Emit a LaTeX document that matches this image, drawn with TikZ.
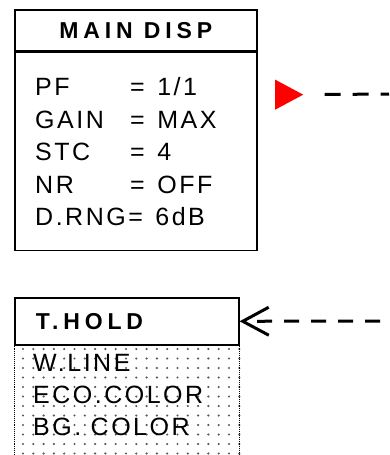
\documentclass[tikz,border=0pt]{standalone}
\usepackage{fontspec}
\setmainfont{Liberation Sans}
\newfontfamily\itemfont[LetterSpace=10]{Liberation Sans}
\newfontfamily\headfont[LetterSpace=21]{Liberation Sans}
\usetikzlibrary{arrows.meta, positioning, shapes.geometric}

\begin{document}
\begin{tikzpicture}[x=1pt, y=-1pt,
    boxline/.style={draw, line width=1.6pt, inner sep=0pt, anchor=north west},
    headtxt/.style={font=\headfont\bfseries\fontsize{23}{27}\selectfont},
    itemtxt/.style={font=\itemfont\fontsize{25}{29}\selectfont, inner sep=0pt, anchor=base west},
    dashline/.style={line width=3pt, dash pattern=on 16pt off 12pt}]
    \useasboundingbox (0,0) rectangle (389,455);

    % Main display menu
    \node[boxline, headtxt, minimum width=242pt, minimum height=41pt] (mainhead) at (14,9) {MAIN DISP};
    \node[boxline, minimum width=242pt, minimum height=198pt] (mainbody) at (mainhead.south west) {};
    \node[itemtxt] (pflbl) at (35,95.5) {PF};
    \node[itemtxt] (pfval) at (130,95.5) {=\enspace 1/1};
    \node[itemtxt] (gainlbl) at (35,128) {GAIN};
    \node[itemtxt] (gainval) at (130,128) {=\enspace MAX};
    \node[itemtxt] (stclbl) at (35,160.5) {STC};
    \node[itemtxt] (stcval) at (130,160.5) {=\enspace 4};
    \node[itemtxt] (nrlbl) at (35,193) {NR};
    \node[itemtxt] (nrval) at (130,193) {=\enspace OFF};
    \node[itemtxt] (drnglbl) at (35,225.5) {D.RNG=\enspace 6dB};

    % Cursor and link
    \node[isosceles triangle, isosceles triangle stretches, fill=red, inner sep=0pt,
          minimum width=30pt, minimum height=28pt, anchor=right corner] (cursor) at (275,110) {};
    \coordinate (mainend) at (389,94);
    \draw[dashline, shorten <=21pt] (cursor.apex) -- (mainend);

    % Hold menu (dotted panel)
    \foreach \i in {0,...,21}
        \foreach \j in {0,...,11}
            \fill[black!65] (23+10.3*\i, 349+9.5*\j) circle (1.2pt);
    \node[boxline, fill=white, headtxt, minimum width=224pt, minimum height=47pt,
          text width=182pt, align=left] (thold) at (14,297) {T.HOLD};
    \draw[densely dotted, line width=0.9pt] (thold.south west) -- ++(0,120);
    \draw[densely dotted, line width=0.9pt] (thold.south east) -- ++(0,120);
    \node[itemtxt] (wline) at (33,371) {W.LINE};
    \node[itemtxt] (ecocol) at (33,403) {ECO.COLOR};
    \node[itemtxt] (bgcol) at (33,435) {BG. COLOR};

    % Return link
    \coordinate (holdend) at (380,321);
    \draw[line width=3pt, dash pattern=on 15pt off 12pt,
          -{Straight Barb[length=26pt, width=28pt]}] (holdend) -- (thold.east);
\end{tikzpicture}
\end{document}
